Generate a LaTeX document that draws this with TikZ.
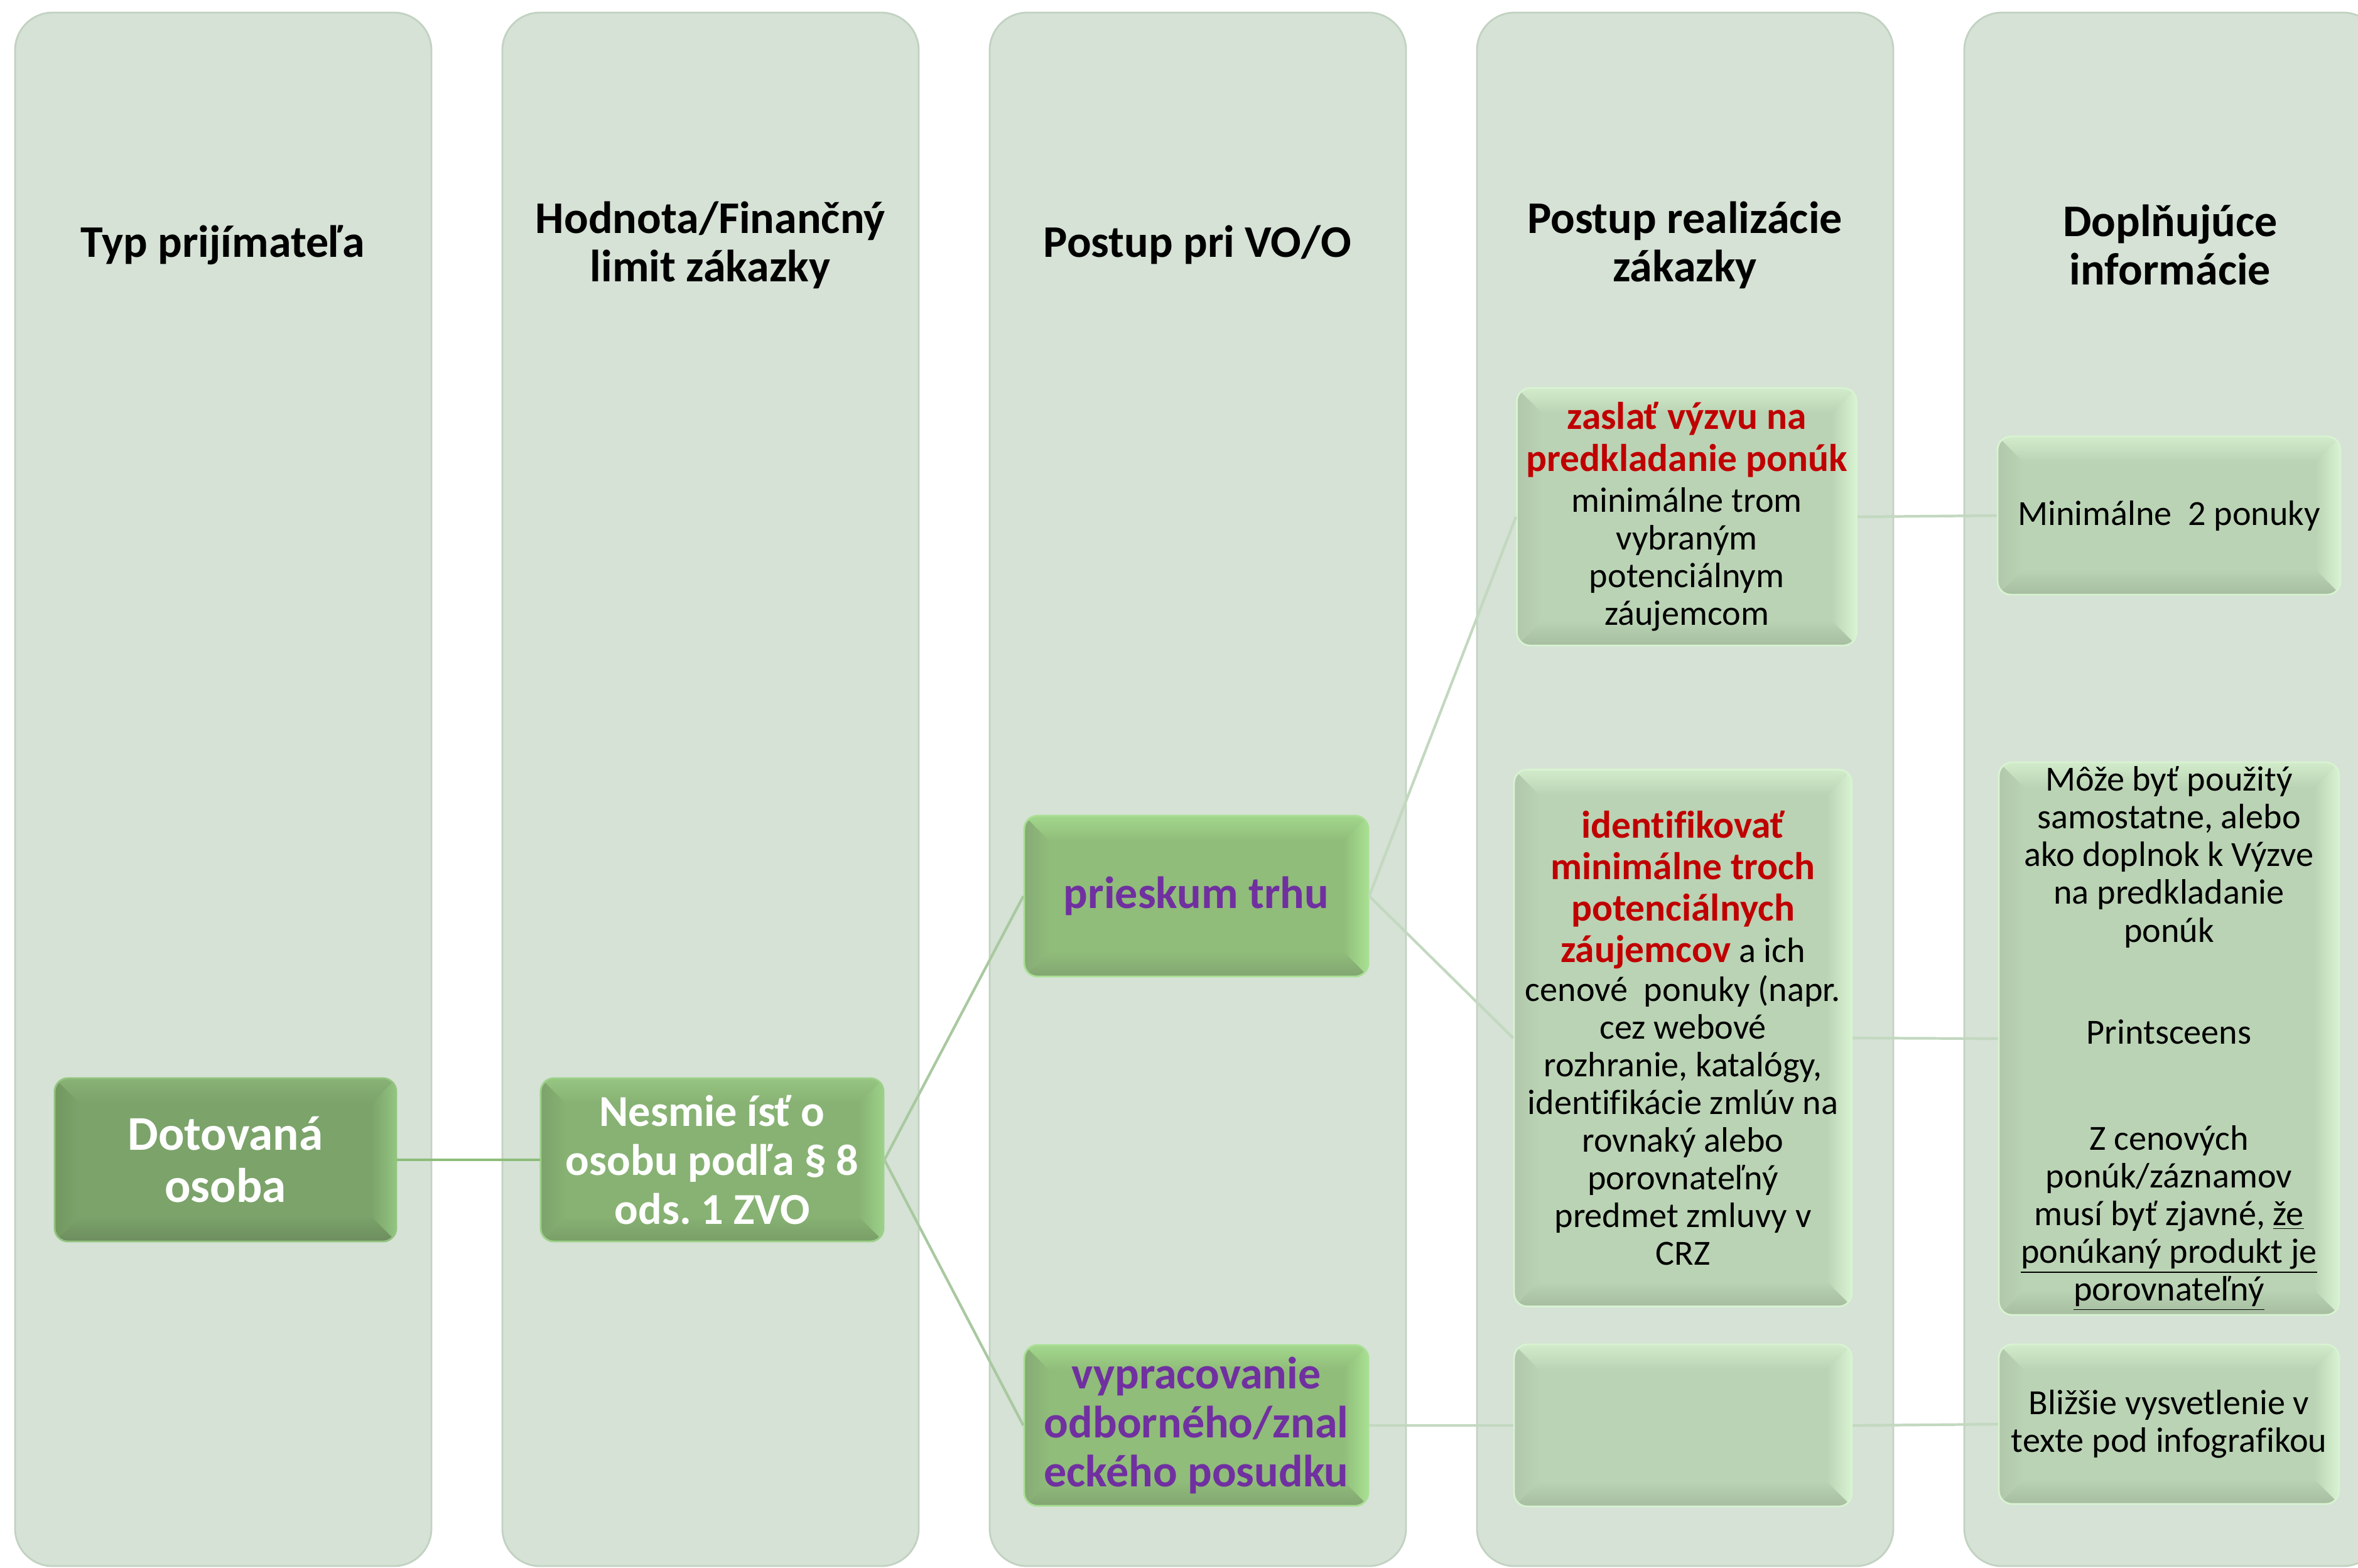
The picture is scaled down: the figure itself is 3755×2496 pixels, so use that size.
\documentclass[tikz,border=0pt]{standalone}
\usepackage{fontspec}
\setmainfont{Carlito}[Ligatures=NoCommon]
\usetikzlibrary{calc}
\frenchspacing
\definecolor{panelbg}{HTML}{D5E2D5}
\definecolor{paneledge}{HTML}{C2D2C2}
\definecolor{aface}{HTML}{7BA36A}
\definecolor{atop}{HTML}{89B277}
\definecolor{aright}{HTML}{93C480}
\definecolor{abot}{HTML}{6D8C5E}
\definecolor{aleft}{HTML}{729860}
\definecolor{bface}{HTML}{87B273}
\definecolor{btop}{HTML}{96C582}
\definecolor{bright}{HTML}{9CD189}
\definecolor{bbot}{HTML}{799E68}
\definecolor{bleft}{HTML}{7DA36B}
\definecolor{cface}{HTML}{90BD7A}
\definecolor{ctop}{HTML}{A3D78D}
\definecolor{cright}{HTML}{A8E092}
\definecolor{cbot}{HTML}{82A572}
\definecolor{cleft}{HTML}{87AA77}
\definecolor{dface}{HTML}{BAD3B4}
\definecolor{dtop}{HTML}{D2ECCB}
\definecolor{dright}{HTML}{D8F3D2}
\definecolor{dbot}{HTML}{A6BDA0}
\definecolor{dleft}{HTML}{B1C7AB}
\definecolor{linkA}{HTML}{8DBD7B}
\definecolor{linkB}{HTML}{A9C9A0}
\definecolor{linkC}{HTML}{C3D8C0}
\definecolor{purpletxt}{HTML}{7030A0}
\definecolor{redtxt}{HTML}{C00000}
\newcommand{\redtext}[1]{{\color{redtxt}\bfseries\fontsize{17.5}{19}\selectfont #1}}
\begin{document}
\begin{tikzpicture}[x=0.1mm,y=-0.1mm,
  panel/.style={fill=panelbg,draw=paneledge,line width=0.8pt,rounded corners=17pt},
  head/.style={font=\bfseries\fontsize{20.5}{21.9}\selectfont,align=center},
  bevel/.style n args={5}{fill=#1,draw=#3,line width=0.8pt,rounded corners=6pt,
    inner sep=0pt,align=center,
    path picture={
      \coordinate (q1) at (path picture bounding box.north west);
      \coordinate (q2) at (path picture bounding box.north east);
      \coordinate (q3) at (path picture bounding box.south east);
      \coordinate (q4) at (path picture bounding box.south west);
      \shade[sharp corners,top color=#2,bottom color=#1] (q1) -- (q2) -- ($(q2)+(-4mm,-4mm)$) -- ($(q1)+(4mm,-4mm)$) -- cycle;
      \shade[sharp corners,left color=#1,right color=#3] (q2) -- (q3) -- ($(q3)+(-4mm,4mm)$) -- ($(q2)+(-4mm,-4mm)$) -- cycle;
      \shade[sharp corners,top color=#1,bottom color=#4] (q3) -- (q4) -- ($(q4)+(4mm,4mm)$) -- ($(q3)+(-4mm,4mm)$) -- cycle;
      \shade[sharp corners,left color=#5,right color=#1] (q4) -- (q1) -- ($(q1)+(4mm,-4mm)$) -- ($(q4)+(4mm,4mm)$) -- cycle;
    }},
  lvA/.style={bevel={aface}{atop}{aright}{abot}{aleft},text=white,font=\bfseries\fontsize{22}{23.6}\selectfont},
  lvB/.style={bevel={bface}{btop}{bright}{bbot}{bleft},text=white,font=\bfseries\fontsize{20}{22.2}\selectfont},
  lvC/.style={bevel={cface}{ctop}{cright}{cbot}{cleft},text=purpletxt,font=\bfseries\fontsize{20.5}{22.2}\selectfont},
  lvD/.style={bevel={dface}{dtop}{dright}{dbot}{dleft},font=\fontsize{16}{17.1}\selectfont},
  link/.style={line width=1.2pt}]
\useasboundingbox (0,0) rectangle (3755,2496);
\clip (0,0) rectangle (3755,2496);
% columns
\foreach \cx in {24,800,1576,2352,3128}
  \draw[panel] (\cx,20) rectangle ++(663,2474);
% headers
\node[head] (h1) at (355,390) {Typ prijímateľa};
\node[head] (h2) at (1131,390) {Hodnota/Finančný\\limit zákazky};
\node[head] (h3) at (1907,390) {Postup pri VO/O};
\node[head] (h4) at (2683,390) {Postup realizácie\\zákazky};
\node[head] (h5) at (3456,390) {Doplňujúce\\informácie};
% boxes
\node[lvA,minimum width=54.4mm,minimum height=26mm] (dot) at (359,1847) {Dotovaná\\osoba};
\node[lvB,minimum width=54.6mm,minimum height=26mm] (nes) at (1134,1847) {Nesmie ísť o\\osobu podľa § 8\\ods. 1 ZVO};
\node[lvC,minimum width=54.8mm,minimum height=25.6mm] (prie) at (1905,1427) {prieskum trhu};
\node[lvC,minimum width=54.8mm,minimum height=25.6mm] (vyp) at (1905,2270) {vypracovanie\\odborného/znal\\eckého posudku};
\node[lvD,minimum width=54.1mm,minimum height=41mm] (zas) at (2686,823)
  {\redtext{zaslať výzvu na}\\[1.7pt]\redtext{predkladanie ponúk}\\[1.5pt]minimálne trom\\vybraným\\potenciálnym\\záujemcom};
\node[lvD,minimum width=53.8mm,minimum height=85.5mm] (ide) at (2680,1653)
  {\redtext{identifikovať}\\[1.7pt]\redtext{minimálne troch}\\[1.7pt]\redtext{potenciálnych}\\[1.7pt]\redtext{záujemcov} a ich\\[0.5pt]cenové~ ponuky (napr.\\cez webové\\rozhranie, katalógy,\\identifikácie zmlúv na\\rovnaký alebo\\porovnateľný\\predmet zmluvy v\\CRZ};
\node[lvD,minimum width=53.8mm,minimum height=25.8mm] (prazd) at (2680,2270) {};
\node[lvD,minimum width=54.6mm,minimum height=25.2mm] (min) at (3454,821) {Minimálne~ 2 ponuky};
\node[lvD,minimum width=54.2mm,minimum height=88mm] (moze) at (3454,1654)
  {Môže byť použitý\\samostatne, alebo\\ako doplnok k Výzve\\na predkladanie\\ponúk\\[29pt]Printsceens\\[31pt]Z cenových\\ponúk/záznamov\\musí byť zjavné, \underline{že}\\\underline{ponúkaný produkt je}\\\underline{porovnateľný}};
\node[lvD,minimum width=54.2mm,minimum height=25.4mm] (bliz) at (3454,2268) {Bližšie vysvetlenie v\\texte pod infografikou};
% connectors
\draw[link,linkA] (dot.east) -- (nes.west);
\draw[link,linkB] (nes.east) -- (prie.west);
\draw[link,linkB] (nes.east) -- (vyp.west);
\draw[link,linkC] (prie.east) -- (zas.west);
\draw[link,linkC] (prie.east) -- (ide.west);
\draw[link,linkC] (vyp.east) -- (prazd.west);
\draw[link,linkC] (zas.east) -- (min.west);
\draw[link,linkC] (ide.east) -- (moze.west);
\draw[link,linkC] (prazd.east) -- (bliz.west);
\end{tikzpicture}
\end{document}
